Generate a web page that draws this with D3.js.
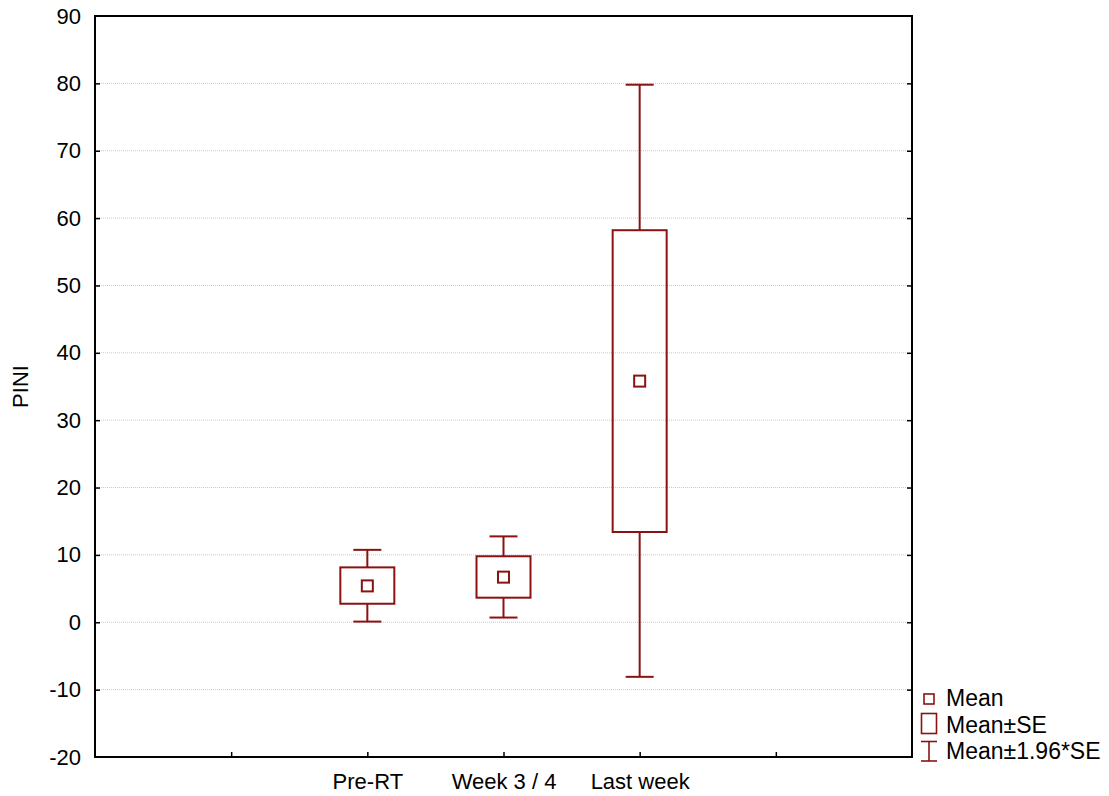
<!DOCTYPE html>
<html><head><meta charset="utf-8">
<script src="https://cdn.jsdelivr.net/npm/d3@7"></script>
<style>body{margin:0;background:#fff}svg{display:block;font-family:"Liberation Sans",Arial,sans-serif}</style>
</head><body><svg id="c" width="1109" height="796"></svg>
<script>
const slots = ["", "", "Pre-RT", "Week 3 / 4", "Last week", "", ""];
const categories = ["Pre-RT", "Week 3 / 4", "Last week"];
const means = [5.4, 6.7, 35.8];
const seLow = [2.75, 3.65, 13.4];
const seHigh = [8.15, 9.8, 58.2];
const ciLow = [0.1, 0.7, -8.1];
const ciHigh = [10.75, 12.75, 79.8];
const yTicks = [-20, -10, 0, 10, 20, 30, 40, 50, 60, 70, 80, 90];
const legendLabels = ["Mean", "Mean±SE", "Mean±1.96*SE"];
const color = "#8b1212";
const FS = 22;

const svg = d3.select("#c");
const L = 95, R = 912, T = 16, B = 757;
const x = d3.scaleLinear().domain([0, 6]).range([L, R]);
const y = d3.scaleLinear().domain([-20, 90]).range([B, T]);
const xi = c => x(slots.indexOf(c));

// grid
svg.append("g").selectAll("line").data(yTicks.filter(v => v > -20 && v < 90)).join("line")
  .attr("x1", L).attr("x2", R).attr("y1", d => y(d)).attr("y2", d => y(d))
  .attr("stroke", "#c8c8c8").attr("stroke-width", 1).attr("stroke-dasharray", "1,1");

// axes
const yAxis = d3.axisLeft(y).tickValues(yTicks).tickSize(-5).tickPadding(14).tickFormat(d => String(d));
const gy = svg.append("g").attr("transform", `translate(${L},0)`).call(yAxis);
const gyR = svg.append("g").attr("transform", `translate(${R},0)`).call(d3.axisRight(y).tickValues(yTicks).tickSize(-5).tickFormat(""));
const xAxis = d3.axisBottom(x).tickValues([1, 2, 3, 4, 5]).tickSize(-5).tickPadding(16).tickFormat(i => slots[i]);
const gx = svg.append("g").attr("transform", `translate(0,${B})`).call(xAxis);
[gy, gyR, gx].forEach(g => {
  g.attr("font-size", FS).attr("font-family", "Liberation Sans, Arial, sans-serif");
  g.select(".domain").remove();
  g.selectAll(".tick line").attr("stroke", "#000").attr("stroke-width", 1.5);
  g.selectAll("text").attr("fill", "#000");
});
gy.selectAll(".tick line").filter(d => d === -20 || d === 90).remove();
gyR.selectAll(".tick line").filter(d => d === -20 || d === 90).remove();
gx.selectAll("text").attr("dy", "0.71em");

svg.append("rect").attr("x", L).attr("y", T).attr("width", R - L).attr("height", B - T)
  .attr("fill", "none").attr("stroke", "#000").attr("stroke-width", 2);

svg.append("text").attr("transform", `translate(28,${(T + B) / 2}) rotate(-90)`)
  .attr("text-anchor", "middle").attr("font-size", FS).text("PINI");

// boxes
const g = svg.append("g").attr("stroke", color).attr("stroke-width", 2).attr("fill", "none");
categories.forEach((c, i) => {
  const cx = xi(c);
  g.append("line").attr("x1", cx).attr("x2", cx).attr("y1", y(ciHigh[i])).attr("y2", y(seHigh[i]));
  g.append("line").attr("x1", cx).attr("x2", cx).attr("y1", y(seLow[i])).attr("y2", y(ciLow[i]));
  g.append("line").attr("x1", cx - 14).attr("x2", cx + 14).attr("y1", y(ciHigh[i])).attr("y2", y(ciHigh[i]));
  g.append("line").attr("x1", cx - 14).attr("x2", cx + 14).attr("y1", y(ciLow[i])).attr("y2", y(ciLow[i]));
  g.append("rect").attr("x", cx - 27).attr("width", 54).attr("y", y(seHigh[i])).attr("height", y(seLow[i]) - y(seHigh[i]));
  g.append("rect").attr("x", cx - 5.5).attr("width", 11).attr("y", y(means[i]) - 5.5).attr("height", 11);
});

// legend
const lg = svg.append("g");
lg.append("rect").attr("x", 924).attr("y", 694).attr("width", 10).attr("height", 10).attr("fill", "none").attr("stroke", color).attr("stroke-width", 1.6);
lg.append("rect").attr("x", 921.5).attr("y", 713.5).attr("width", 15).attr("height", 20).attr("fill", "none").attr("stroke", color).attr("stroke-width", 1.6);
lg.append("line").attr("x1", 921).attr("x2", 937).attr("y1", 741.5).attr("y2", 741.5).attr("stroke", color).attr("stroke-width", 1.6);
lg.append("line").attr("x1", 921).attr("x2", 937).attr("y1", 761).attr("y2", 761).attr("stroke", color).attr("stroke-width", 1.6);
lg.append("line").attr("x1", 929).attr("x2", 929).attr("y1", 741.5).attr("y2", 761).attr("stroke", color).attr("stroke-width", 1.6);
lg.selectAll("text").data(legendLabels).join("text")
  .attr("x", 946).attr("y", (d, i) => [706, 733, 759][i]).attr("font-size", 23).text(d => d);
</script></body></html>
